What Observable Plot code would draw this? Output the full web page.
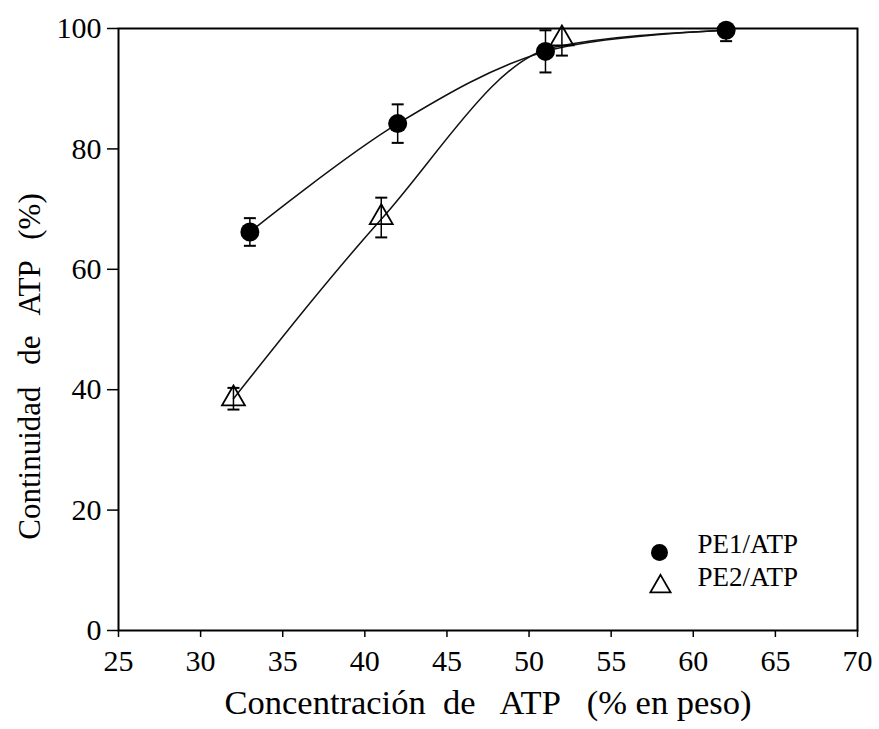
<!DOCTYPE html>
<html><head><meta charset="utf-8">
<script src="https://cdn.jsdelivr.net/npm/d3@7"></script>
<script src="https://cdn.jsdelivr.net/npm/@observablehq/plot@0.6"></script>
<style>body{margin:0;background:#fff}</style>
</head><body><div id="chart"></div>
<script>
// PE1/ATP
const pe1X = [33, 42, 51, 62];
const pe1Y = [66.2, 84.2, 96.2, 99.7];
const pe1Err = [2.3, 3.2, 3.5, 1.8];
// PE2/ATP
const pe2X = [32, 41, 52];
const pe2Y = [38.5, 68.6, 98.3];
const pe2Err = [1.8, 3.3, 2.8];
// fitted curves
const fit1X = [33, 42, 51, 62];
const fit1Y = [66.2, 84.2, 96.2, 99.7];
const fit2X = [32, 41, 51.5, 62];
const fit2Y = [38.5, 68.3, 96.9, 99.7];
const xTicks = [25, 30, 35, 40, 45, 50, 55, 60, 65, 70];
const yTicks = [0, 20, 40, 60, 80, 100];
const seriesNames = ["PE1/ATP", "PE2/ATP"];
const xTitle = "Concentración\u00a0 de\u00a0\u00a0 ATP\u00a0\u00a0 (% en peso)";
const yTitle = "Continuidad de ATP (%)";

const pe1 = pe1X.map((x, i) => ({x, y: pe1Y[i], e: pe1Err[i]}));
const pe2 = pe2X.map((x, i) => ({x, y: pe2Y[i], e: pe2Err[i]}));
const fit1 = fit1X.map((x, i) => ({x, y: fit1Y[i]}));
const fit2 = fit2X.map((x, i) => ({x, y: fit2Y[i]}));
const allPts = pe1.concat(pe2);
const caps = allPts.flatMap(d => [{x: d.x, y: d.y + d.e, ok: d.y + d.e <= 100}, {x: d.x, y: d.y - d.e, ok: true}]).filter(d => d.ok);

const cap = {draw(ctx, size) { const w = 6; ctx.moveTo(-w, 0); ctx.lineTo(w, 0); }};
const font = "'Liberation Serif', 'Times New Roman', serif";

const chart = Plot.plot({
  width: 879, height: 729,
  marginLeft: 118, marginRight: 22, marginTop: 28, marginBottom: 99,
  style: {fontFamily: font, color: "#000", background: "#fff"},
  x: {domain: [25, 70]},
  y: {domain: [0, 100]},
  marks: [
    Plot.axisX({ticks: xTicks, tickSize: 7, tickPadding: 12, label: null, fontSize: 30, fontFamily: font, tickFormat: d => d, stroke: "#000", strokeWidth: 1.5}),
    Plot.axisY({ticks: yTicks, tickSize: 11, tickPadding: 6, label: null, fontSize: 30, fontFamily: font, tickFormat: d => d, stroke: "#000", strokeWidth: 1.5}),
    Plot.frame({stroke: "#000", strokeWidth: 2}),
    Plot.line(fit1, {x: "x", y: "y", curve: "catmull-rom", stroke: "#111", strokeWidth: 1.5}),
    Plot.line(fit2, {x: "x", y: "y", curve: "monotone-x", stroke: "#111", strokeWidth: 1.5}),
    Plot.ruleX(allPts, {x: "x", y1: d => d.y - d.e, y2: d => Math.min(100, d.y + d.e), stroke: "#000", strokeWidth: 1.5}),
    Plot.dot(caps, {x: "x", y: "y", symbol: cap, stroke: "#000", strokeWidth: 2}),
    Plot.dot(pe2, {x: "x", y: "y", symbol: "triangle", r: 8.5, stroke: "#000", strokeWidth: 1.8, fill: "none"}),
    Plot.dot(pe1, {x: "x", y: "y", symbol: "circle", r: 9.5, fill: "#000", stroke: "none"}),
    // legend
    Plot.dot([seriesNames[0]], {frameAnchor: "bottom-right", dx: -198, dy: -78, symbol: "circle", r: 8.5, fill: "#000"}),
    Plot.dot([seriesNames[1]], {frameAnchor: "bottom-right", dx: -197, dy: -44, symbol: "triangle", r: 7.5, stroke: "#000", strokeWidth: 1.8, fill: "none"}),
    Plot.text([seriesNames[0]], {text: d => d, frameAnchor: "bottom-right", dx: -160, dy: -78, textAnchor: "start", fontSize: 27, fontFamily: font, fill: "#000"}),
    Plot.text([seriesNames[1]], {text: d => d, frameAnchor: "bottom-right", dx: -160, dy: -45, textAnchor: "start", fontSize: 27, fontFamily: font, fill: "#000"}),
    // axis titles
    Plot.text([xTitle], {text: d => d, frameAnchor: "bottom", dy: 83, textAnchor: "middle", fontSize: 34.5, fontFamily: font, fill: "#000"}),
    Plot.text([yTitle], {text: d => d, frameAnchor: "left", dx: -88, dy: 37, rotate: -90, textAnchor: "middle", fontSize: 31, fontFamily: font, fill: "#000"})
  ]
});
for (const t of chart.querySelectorAll("text")) {
  if (t.textContent === yTitle) t.style.wordSpacing = "14px";
}
document.getElementById("chart").appendChild(chart);
</script></body></html>
